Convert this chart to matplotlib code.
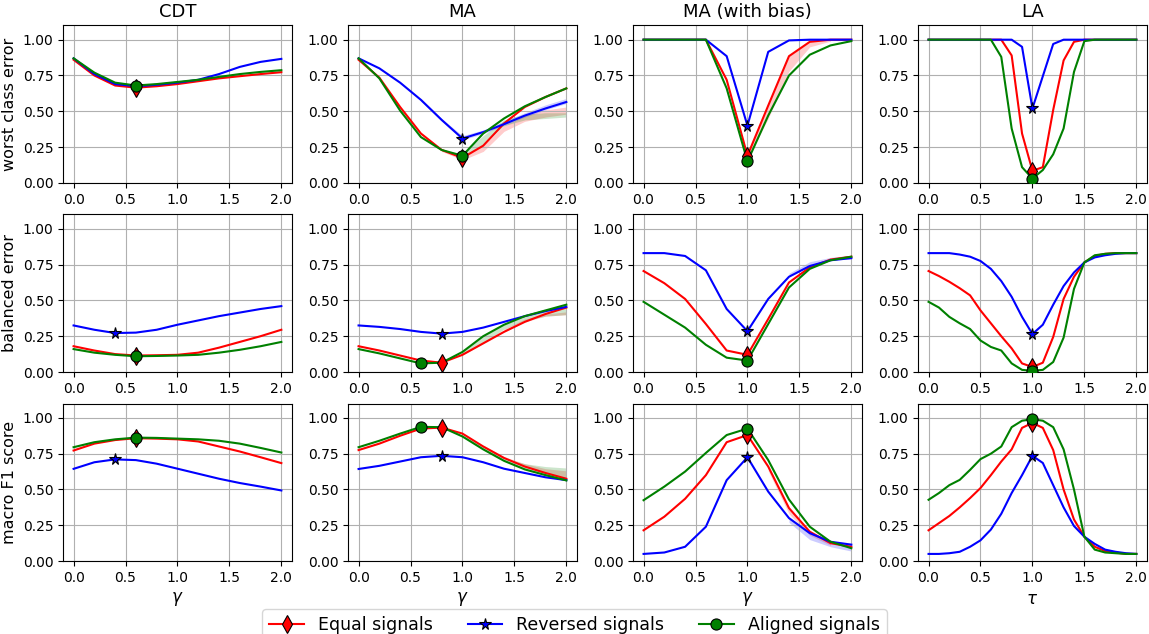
import numpy as np
import matplotlib
matplotlib.use("Agg")
import matplotlib.pyplot as plt
from matplotlib.lines import Line2D

# x grids
gamma = [0.0, 0.2, 0.4, 0.6, 0.8, 1.0, 1.2, 1.4, 1.6, 1.8, 2.0]
tau = [0.0, 0.1, 0.2, 0.3, 0.4, 0.5, 0.6, 0.7, 0.8, 0.9, 1.0,
       1.1, 1.2, 1.3, 1.4, 1.5, 1.6, 1.7, 1.8, 1.9, 2.0]

methods = ["CDT", "MA", "MA (with bias)", "LA"]
metrics = ["worst class error", "balanced error", "macro F1 score"]
series_names = ["Equal signals", "Reversed signals", "Aligned signals"]

# ---- worst class error ----
cdt_wce_equal = [0.86, 0.75, 0.68, 0.665, 0.675, 0.69, 0.71, 0.73, 0.745, 0.76, 0.773]
cdt_wce_rev = [0.87, 0.76, 0.69, 0.675, 0.685, 0.70, 0.72, 0.76, 0.81, 0.845, 0.866]
cdt_wce_aligned = [0.87, 0.77, 0.70, 0.68, 0.69, 0.705, 0.72, 0.74, 0.76, 0.775, 0.787]

ma_wce_equal = [0.86, 0.735, 0.53, 0.345, 0.23, 0.175, 0.26, 0.415, 0.53, 0.60, 0.66]
ma_wce_rev = [0.87, 0.80, 0.70, 0.58, 0.44, 0.31, 0.355, 0.41, 0.47, 0.52, 0.565]
ma_wce_aligned = [0.87, 0.73, 0.505, 0.32, 0.23, 0.19, 0.345, 0.45, 0.535, 0.60, 0.66]

mab_wce_equal = [1.0, 1.0, 1.0, 1.0, 0.72, 0.19, 0.54, 0.885, 0.985, 1.0, 1.0]
mab_wce_rev = [1.0, 1.0, 1.0, 1.0, 0.885, 0.40, 0.915, 0.995, 1.0, 1.0, 1.0]
mab_wce_aligned = [1.0, 1.0, 1.0, 1.0, 0.66, 0.15, 0.47, 0.75, 0.895, 0.96, 0.99]

la_wce_equal = [1.0, 1.0, 1.0, 1.0, 1.0, 1.0, 1.0, 1.0, 0.89, 0.345, 0.085,
                0.11, 0.51, 0.855, 0.985, 1.0, 1.0, 1.0, 1.0, 1.0, 1.0]
la_wce_rev = [1.0, 1.0, 1.0, 1.0, 1.0, 1.0, 1.0, 1.0, 1.0, 0.95, 0.52,
              0.745, 0.97, 1.0, 1.0, 1.0, 1.0, 1.0, 1.0, 1.0, 1.0]
la_wce_aligned = [1.0, 1.0, 1.0, 1.0, 1.0, 1.0, 1.0, 0.88, 0.38, 0.11, 0.03,
                  0.09, 0.20, 0.38, 0.775, 0.99, 1.0, 1.0, 1.0, 1.0, 1.0]

# ---- balanced error ----
cdt_be_equal = [0.18, 0.15, 0.125, 0.115, 0.117, 0.12, 0.135, 0.17, 0.21, 0.25, 0.295]
cdt_be_rev = [0.325, 0.295, 0.272, 0.275, 0.295, 0.33, 0.36, 0.39, 0.415, 0.44, 0.46]
cdt_be_aligned = [0.16, 0.135, 0.12, 0.11, 0.112, 0.115, 0.12, 0.135, 0.155, 0.18, 0.21]

ma_be_equal = [0.18, 0.15, 0.115, 0.08, 0.065, 0.12, 0.20, 0.28, 0.35, 0.405, 0.45]
ma_be_rev = [0.325, 0.315, 0.30, 0.28, 0.268, 0.28, 0.31, 0.35, 0.39, 0.425, 0.455]
ma_be_aligned = [0.16, 0.13, 0.095, 0.06, 0.065, 0.14, 0.25, 0.33, 0.39, 0.43, 0.47]

mab_be_equal = [0.705, 0.62, 0.51, 0.335, 0.15, 0.12, 0.37, 0.625, 0.73, 0.785, 0.805]
mab_be_rev = [0.83, 0.83, 0.81, 0.71, 0.44, 0.285, 0.51, 0.665, 0.74, 0.78, 0.795]
mab_be_aligned = [0.49, 0.40, 0.31, 0.19, 0.10, 0.08, 0.335, 0.59, 0.72, 0.78, 0.805]

la_be_equal = [0.705, 0.67, 0.63, 0.585, 0.535, 0.43, 0.34, 0.25, 0.165, 0.06, 0.035,
               0.065, 0.245, 0.51, 0.665, 0.765, 0.81, 0.825, 0.83, 0.83, 0.83]
la_be_rev = [0.83, 0.83, 0.83, 0.82, 0.805, 0.775, 0.72, 0.635, 0.525, 0.385, 0.265,
             0.33, 0.47, 0.60, 0.695, 0.765, 0.80, 0.815, 0.825, 0.83, 0.83]
la_be_aligned = [0.49, 0.45, 0.385, 0.34, 0.30, 0.22, 0.175, 0.15, 0.06, 0.015, 0.008,
                 0.015, 0.07, 0.24, 0.58, 0.765, 0.815, 0.825, 0.83, 0.83, 0.83]

# ---- macro F1 ----
cdt_f1_equal = [0.772, 0.82, 0.845, 0.858, 0.855, 0.85, 0.835, 0.80, 0.765, 0.725, 0.684]
cdt_f1_rev = [0.644, 0.69, 0.71, 0.705, 0.68, 0.645, 0.61, 0.575, 0.545, 0.52, 0.493]
cdt_f1_aligned = [0.795, 0.83, 0.85, 0.862, 0.86, 0.855, 0.85, 0.84, 0.82, 0.79, 0.758]

ma_f1_equal = [0.775, 0.82, 0.875, 0.925, 0.932, 0.89, 0.80, 0.72, 0.66, 0.615, 0.575]
ma_f1_rev = [0.643, 0.665, 0.695, 0.725, 0.735, 0.725, 0.69, 0.645, 0.615, 0.585, 0.565]
ma_f1_aligned = [0.795, 0.84, 0.89, 0.937, 0.935, 0.87, 0.78, 0.70, 0.64, 0.60, 0.563]

mab_f1_equal = [0.215, 0.31, 0.435, 0.60, 0.83, 0.88, 0.66, 0.37, 0.205, 0.125, 0.10]
mab_f1_rev = [0.05, 0.06, 0.10, 0.24, 0.565, 0.725, 0.485, 0.30, 0.195, 0.135, 0.115]
mab_f1_aligned = [0.425, 0.52, 0.625, 0.755, 0.88, 0.925, 0.705, 0.43, 0.24, 0.135, 0.09]

la_f1_equal = [0.215, 0.265, 0.315, 0.375, 0.44, 0.51, 0.60, 0.695, 0.78, 0.93, 0.965,
               0.93, 0.775, 0.50, 0.29, 0.17, 0.10, 0.07, 0.06, 0.05, 0.05]
la_f1_rev = [0.05, 0.05, 0.055, 0.065, 0.10, 0.145, 0.22, 0.33, 0.475, 0.60, 0.735,
             0.685, 0.53, 0.375, 0.245, 0.17, 0.12, 0.08, 0.065, 0.055, 0.05]
la_f1_aligned = [0.428, 0.475, 0.53, 0.567, 0.637, 0.712, 0.75, 0.80, 0.935, 0.98, 0.99,
                 0.98, 0.935, 0.78, 0.50, 0.17, 0.08, 0.06, 0.055, 0.05, 0.05]

# light spread bands (x, low, high) where visible
ma_wce_equal_band = ([0.8, 1.0, 1.2, 1.4, 1.6, 1.8, 2.0],
                     [0.22, 0.16, 0.22, 0.36, 0.43, 0.46, 0.48],
                     [0.24, 0.19, 0.26, 0.40, 0.47, 0.51, 0.53])
ma_wce_rev_band = ([0.6, 0.8, 1.0, 1.2, 1.4, 1.6, 1.8, 2.0],
                   [0.57, 0.43, 0.30, 0.345, 0.40, 0.46, 0.51, 0.555],
                   [0.59, 0.45, 0.33, 0.37, 0.43, 0.49, 0.545, 0.59])
ma_wce_aligned_band = ([1.0, 1.2, 1.4, 1.6, 1.8, 2.0],
                       [0.18, 0.27, 0.40, 0.44, 0.45, 0.46],
                       [0.21, 0.33, 0.44, 0.48, 0.49, 0.49])
mab_wce_equal_band = ([1.0, 1.2, 1.4, 1.6, 1.8],
                      [0.17, 0.45, 0.78, 0.95, 0.99],
                      [0.20, 0.54, 0.885, 0.985, 1.0])
ma_be_equal_band = ([1.4, 1.6, 1.8, 2.0],
                    [0.28, 0.35, 0.39, 0.40],
                    [0.30, 0.37, 0.405, 0.42])
ma_be_aligned_band = ([1.0, 1.2, 1.4, 1.6, 1.8, 2.0],
                      [0.12, 0.20, 0.30, 0.36, 0.39, 0.40],
                      [0.14, 0.25, 0.33, 0.39, 0.43, 0.47])
mab_be_rev_band = ([1.4, 1.6, 1.8, 2.0],
                   [0.665, 0.74, 0.78, 0.79],
                   [0.69, 0.77, 0.80, 0.815])
ma_f1_equal_band = ([1.2, 1.4, 1.6, 1.8, 2.0],
                    [0.80, 0.72, 0.66, 0.615, 0.575],
                    [0.81, 0.73, 0.68, 0.645, 0.63])
ma_f1_aligned_band = ([1.0, 1.2, 1.4, 1.6, 1.8, 2.0],
                      [0.87, 0.78, 0.70, 0.64, 0.60, 0.563],
                      [0.88, 0.80, 0.72, 0.68, 0.66, 0.65])
mab_f1_equal_band = ([1.2, 1.4, 1.6, 1.8],
                     [0.63, 0.33, 0.18, 0.11],
                     [0.66, 0.37, 0.205, 0.125])
mab_f1_rev_band = ([1.4, 1.6, 1.8, 2.0],
                   [0.27, 0.15, 0.10, 0.07],
                   [0.30, 0.195, 0.135, 0.115])

data = {
    (0, 0): (gamma, [cdt_wce_equal, cdt_wce_rev, cdt_wce_aligned]),
    (0, 1): (gamma, [ma_wce_equal, ma_wce_rev, ma_wce_aligned]),
    (0, 2): (gamma, [mab_wce_equal, mab_wce_rev, mab_wce_aligned]),
    (0, 3): (tau, [la_wce_equal, la_wce_rev, la_wce_aligned]),
    (1, 0): (gamma, [cdt_be_equal, cdt_be_rev, cdt_be_aligned]),
    (1, 1): (gamma, [ma_be_equal, ma_be_rev, ma_be_aligned]),
    (1, 2): (gamma, [mab_be_equal, mab_be_rev, mab_be_aligned]),
    (1, 3): (tau, [la_be_equal, la_be_rev, la_be_aligned]),
    (2, 0): (gamma, [cdt_f1_equal, cdt_f1_rev, cdt_f1_aligned]),
    (2, 1): (gamma, [ma_f1_equal, ma_f1_rev, ma_f1_aligned]),
    (2, 2): (gamma, [mab_f1_equal, mab_f1_rev, mab_f1_aligned]),
    (2, 3): (tau, [la_f1_equal, la_f1_rev, la_f1_aligned]),
}
bands = {
    (0, 1): [ma_wce_equal_band, ma_wce_rev_band, ma_wce_aligned_band],
    (0, 2): [mab_wce_equal_band, None, None],
    (1, 1): [ma_be_equal_band, None, ma_be_aligned_band],
    (1, 2): [None, mab_be_rev_band, None],
    (2, 1): [ma_f1_equal_band, None, ma_f1_aligned_band],
    (2, 2): [mab_f1_equal_band, mab_f1_rev_band, None],
}

colors = ["red", "blue", "green"]
markers = ["d", "*", "o"]
msizes = [9, 8.5, 8]

fig, axes = plt.subplots(3, 4, figsize=(11.49, 6.34), dpi=100)
fig.subplots_adjust(left=0.055, right=0.998, top=0.96, bottom=0.115,
                    wspace=0.247, hspace=0.2)

for r in range(3):
    for c in range(4):
        ax = axes[r, c]
        x, ys = data[(r, c)]
        bl = bands.get((r, c), [None, None, None])
        for k in range(3):
            if bl[k] is not None:
                bx, lo, hi = bl[k]
                ax.fill_between(bx, lo, hi, color=colors[k], alpha=0.2, lw=0)
        for k in range(3):
            ax.plot(x, ys[k], color=colors[k], lw=1.5, zorder=3)
        for k in range(3):
            y = np.array(ys[k])
            i = int(np.argmax(y)) if r == 2 else int(np.argmin(y))
            ax.plot(x[i], y[i], marker=markers[k], color=colors[k], ms=msizes[k],
                    mec="black", mew=0.8, zorder=4 + k)
        ax.set_xlim(-0.1, 2.1)
        ax.set_ylim(0, 1.1)
        ax.set_xticks([0.0, 0.5, 1.0, 1.5, 2.0])
        ax.set_yticks([0.0, 0.25, 0.5, 0.75, 1.0])
        ax.tick_params(labelsize=10)
        ax.grid(True, color="#b0b0b0", lw=0.8)
        if r == 0:
            ax.set_title(methods[c], fontsize=13)
        if c == 0:
            ax.set_ylabel(metrics[r], fontsize=11.5)
        if r == 2:
            ax.set_xlabel(r"$\tau$" if c == 3 else r"$\gamma$", fontsize=12)

handles = [Line2D([], [], color=colors[k], marker=markers[k], ms=msizes[k],
                  mec="black", mew=0.8, lw=1.5) for k in range(3)]
fig.legend(handles, series_names, loc="lower center", bbox_to_anchor=(0.5, -0.025),
           ncol=3, fontsize=12.5, columnspacing=2.0)

fig.savefig("out.png", dpi=100)
